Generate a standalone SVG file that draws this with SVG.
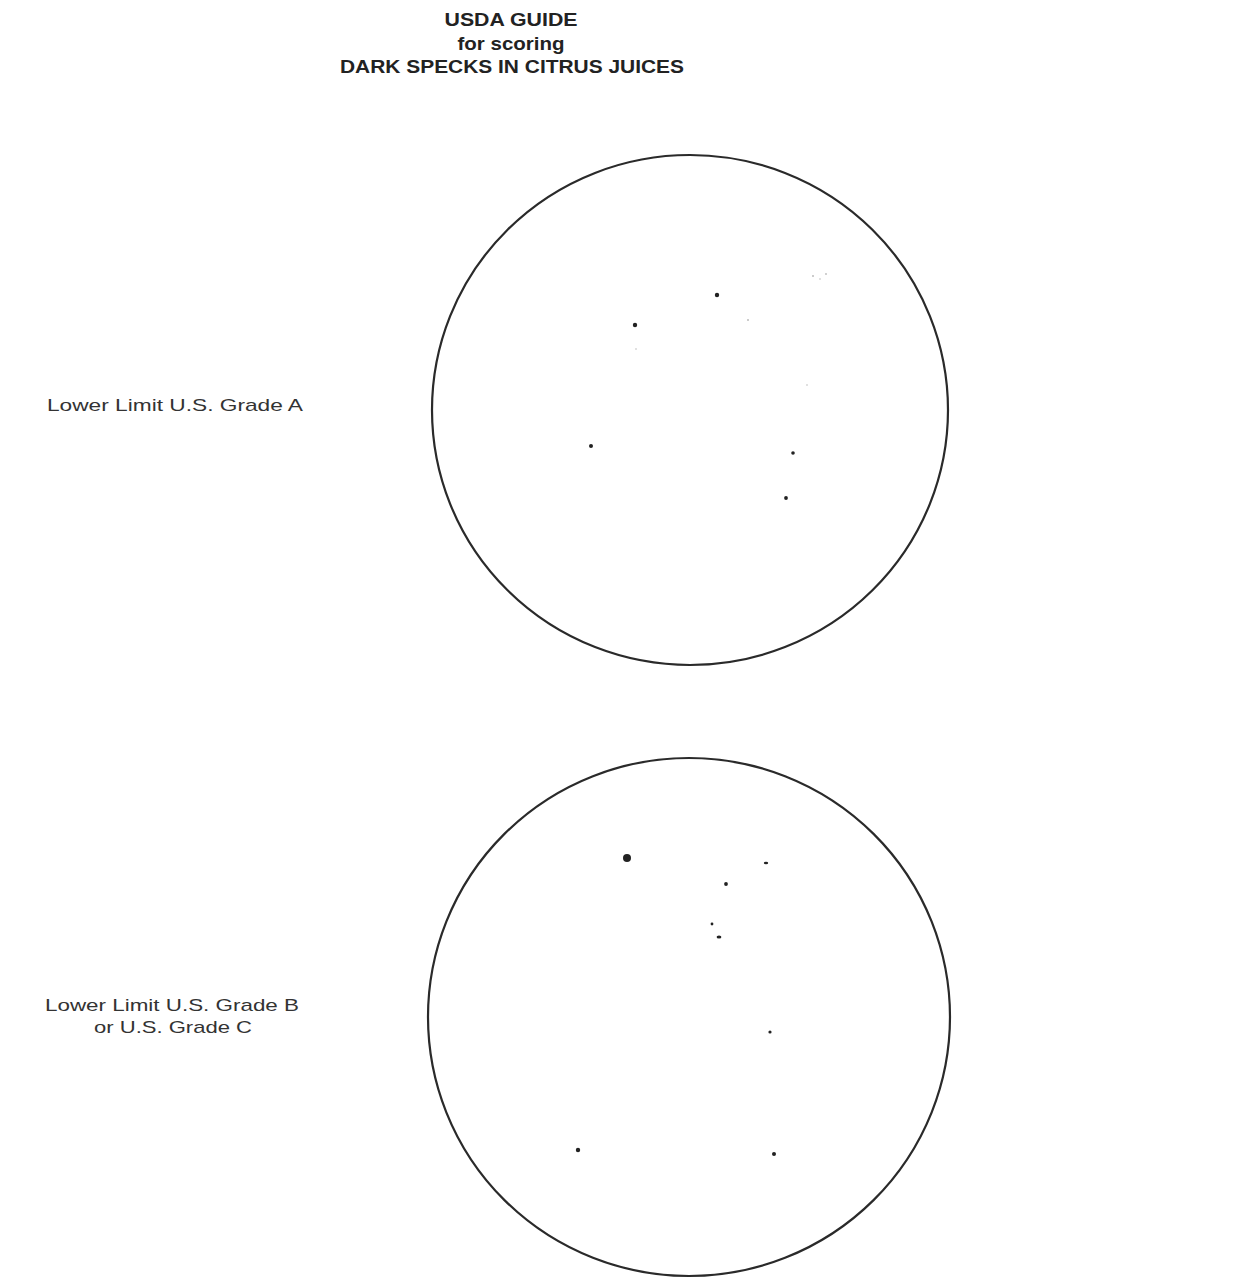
<svg xmlns="http://www.w3.org/2000/svg" width="1241" height="1279" viewBox="0 0 1241 1279">
<style>
.title{font-family:"Liberation Sans",Arial,sans-serif;font-weight:bold;font-size:19px;fill:#222;text-anchor:middle}
.label{font-family:"Liberation Sans",Arial,sans-serif;font-size:17px;fill:#333}
.ring{fill:none;stroke:#2a2a2a;stroke-width:2.2}
.speck{fill:#222}
.faint{fill:#bbb}
</style>
<rect width="1241" height="1279" fill="#fff"/>
<g id="title">
<text class="title" x="511" y="26" textLength="133" lengthAdjust="spacingAndGlyphs">USDA GUIDE</text>
<text class="title" x="511" y="50" textLength="107" lengthAdjust="spacingAndGlyphs">for scoring</text>
<text class="title" x="512" y="73" textLength="344" lengthAdjust="spacingAndGlyphs">DARK SPECKS IN CITRUS JUICES</text>
</g>
<g id="grade-a">
<text class="label" x="47" y="411" textLength="256" lengthAdjust="spacingAndGlyphs">Lower Limit U.S. Grade A</text>
<ellipse class="ring" cx="690" cy="410" rx="258" ry="255"/>
<circle class="speck" cx="717" cy="295" r="2.2"/>
<circle class="speck" cx="635" cy="325" r="2.2"/>
<circle class="speck" cx="591" cy="446" r="2"/>
<circle class="speck" cx="793" cy="453" r="1.8"/>
<circle class="speck" cx="786" cy="498" r="1.9"/>
<circle class="faint" cx="748" cy="320" r="1"/>
<circle class="faint" cx="813" cy="276" r="1"/>
<circle class="faint" cx="820" cy="279" r="0.8"/>
<circle class="faint" cx="826" cy="274" r="0.9"/>
<circle class="faint" cx="636" cy="349" r="0.8"/>
<circle class="faint" cx="807" cy="385" r="0.8"/>
</g>
<g id="grade-b">
<text class="label" x="45" y="1011" textLength="254" lengthAdjust="spacingAndGlyphs">Lower Limit U.S. Grade B</text>
<text class="label" x="94" y="1033" textLength="158" lengthAdjust="spacingAndGlyphs">or U.S. Grade C</text>
<ellipse class="ring" cx="689" cy="1017" rx="261" ry="259"/>
<circle class="speck" cx="627" cy="858" r="4"/>
<ellipse class="speck" cx="766" cy="863" rx="2.2" ry="1.3"/>
<circle class="speck" cx="726" cy="884" r="1.9"/>
<circle class="speck" cx="712" cy="924" r="1.4"/>
<ellipse class="speck" cx="719" cy="937" rx="2.4" ry="1.5"/>
<circle class="speck" cx="770" cy="1032" r="1.6"/>
<circle class="speck" cx="578" cy="1150" r="2.2"/>
<circle class="speck" cx="774" cy="1154" r="2"/>
</g>
</svg>
